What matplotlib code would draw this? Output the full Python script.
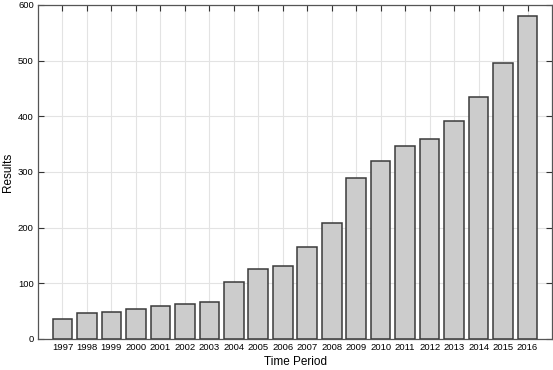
import matplotlib
matplotlib.use("Agg")
import matplotlib.pyplot as plt

years = ["1997", "1998", "1999", "2000", "2001", "2002", "2003", "2004", "2005", "2006",
         "2007", "2008", "2009", "2010", "2011", "2012", "2013", "2014", "2015", "2016"]
results = [36, 46, 49, 53, 59, 62, 66, 102, 125, 131,
           165, 209, 290, 320, 346, 360, 392, 435, 495, 580]

plt.rcParams["font.family"] = ["Liberation Sans", "DejaVu Sans"]

fig = plt.figure(figsize=(5.53, 3.70), dpi=100)
ax = fig.add_axes([38 / 553, 1 - 339 / 370, 514 / 553, 334 / 370])

pos = list(range(1, len(years) + 1))
ax.bar(pos, results, width=0.8, color="#cccccc", edgecolor="#3a3a3a", linewidth=1.1, zorder=3)

ax.set_xlim(0, len(years) + 1)
ax.set_ylim(0, 600)
ax.set_xticks(pos)
ax.set_xticklabels(years)
ax.set_yticks(range(0, 601, 100))

ax.grid(True, color="#e3e3e3", linewidth=0.8, zorder=0)
ax.tick_params(direction="in", top=True, right=True, length=4, width=0.8,
               color="#333333", labelsize=6.8, pad=3)
for s in ax.spines.values():
    s.set_color("#555555")
    s.set_linewidth(0.9)

ax.set_xlabel("Time Period", fontsize=8.5, labelpad=3)
ax.set_ylabel("Results", fontsize=8.5)
ax.yaxis.set_label_coords(-0.047, 0.5)

fig.savefig("out.png", dpi=100)
